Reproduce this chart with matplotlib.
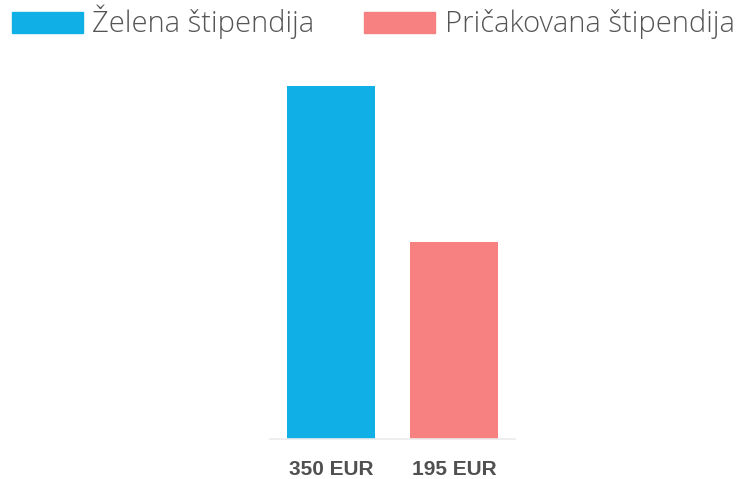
import matplotlib
matplotlib.use("Agg")
import matplotlib.pyplot as plt
from matplotlib.patches import Rectangle

# data
categories = ["350 EUR", "195 EUR"]
values = [350, 195]
series_names = ["Želena štipendija", "Pričakovana štipendija"]
colors = ["#10B0E6", "#F78080"]

W, H = 739, 479
fig = plt.figure(figsize=(W / 100, H / 100), dpi=100)

# axes placed in pixel terms
ax_left, ax_right, ax_top, ax_bot = 270, 515, 86, 439
ax = fig.add_axes([ax_left / W, 1 - ax_bot / H, (ax_right - ax_left) / W, (ax_bot - ax_top) / H])

x = range(len(values))
ax.bar(x, values, width=0.715, color=colors)
ax.set_xlim(-0.496, 1.496)
ax.set_ylim(0, 350)

for s in ["top", "right", "left"]:
    ax.spines[s].set_visible(False)
ax.spines["bottom"].set_color("#EBEBEB")
ax.spines["bottom"].set_linewidth(1.2)
ax.set_yticks([])
ax.set_xticks(list(x))
ax.set_xticklabels(categories, fontsize=15, fontweight="bold",
                   family="Liberation Sans", color="#505050")
ax.tick_params(axis="x", length=0, pad=15)

# legend drawn by hand at the top, text scaled to the widths in the reference
patch_x = [12, 364]
text_x = [92, 445]
text_end = [314, 735]
renderer = fig.canvas.get_renderer()
for px, tx, te, name, c in zip(patch_x, text_x, text_end, series_names, colors):
    fig.patches.append(Rectangle((px / W, 1 - 33 / H), 71 / W, 21 / H,
                                 transform=fig.transFigure, color=c))
    t = fig.text(tx / W, 1 - 32 / H, name, fontsize=19, family="Open Sans",
                 fontweight="light", color="#555555", va="baseline")
    w = t.get_window_extent(renderer).width
    t.set_fontsize(19 * (te - tx) / w)

fig.savefig("out.png", dpi=100)
